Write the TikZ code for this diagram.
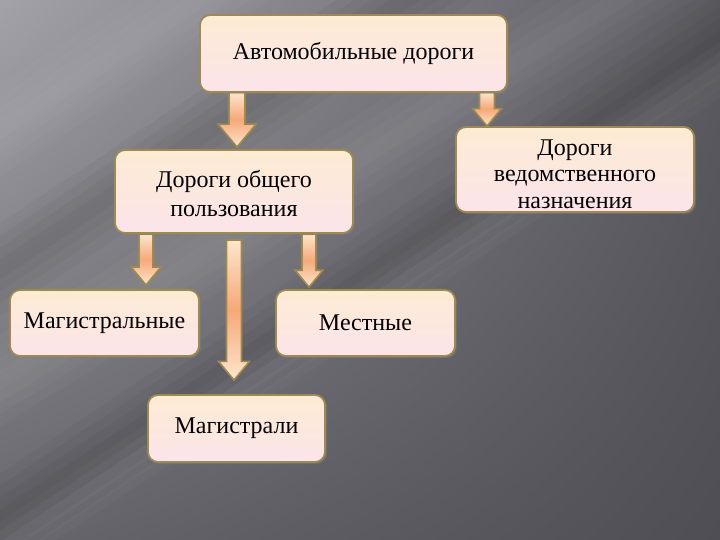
\documentclass[tikz,border=0pt]{standalone}
\usepackage{fontspec}
\setmainfont{Liberation Serif}
\usetikzlibrary{shadows,shadings}
\definecolor{bord}{HTML}{9C8A50}
\definecolor{ftop}{HTML}{FDEBD3}
\definecolor{fbot}{HTML}{FCE4EA}
\definecolor{atop}{HTML}{FDE6CC}
\definecolor{amid}{HTML}{F6A878}
\definecolor{bgUL}{HTML}{A2A2A8}
\definecolor{bgUR}{HTML}{5A5A60}
\definecolor{bgLL}{HTML}{66666C}
\definecolor{bgLR}{HTML}{4E4E54}
\tikzset{
  box/.style={draw=bord, line width=1.8pt, rounded corners=10pt, top color=ftop, bottom color=fbot,
    align=center, font=\fontsize{24}{29}\selectfont, text=black, inner sep=0pt,
    drop shadow={shadow xshift=2pt, shadow yshift=-2pt, opacity=0.45}},
  txt/.style={align=center, font=\fontsize{24}{29}\selectfont, text=black, inner sep=0pt},
  barrow/.style={draw=bord, line width=1.6pt, top color=atop, bottom color=atop, middle color=amid},
  streak/.style={white, opacity=0.025},
  dstreak/.style={black, opacity=0.03}
}
\newcommand{\blockarrow}[5]{%
  \path[barrow] (#1-#3,#2) -- (#1+#3,#2) -- (#1+#3,#5-18*#4/15) -- (#1+#4,#5-18*#4/15) -- (#1,#5) -- (#1-#4,#5-18*#4/15) -- (#1-#3,#5-18*#4/15) -- cycle;}
\begin{document}
\begin{tikzpicture}[x=1pt,y=-1pt]
\useasboundingbox (0,0) rectangle (720,540);
\begin{scope}
\clip (0,0) rectangle (720,540);
\shade[upper left=bgUL, upper right=bgUR, lower left=bgLL, lower right=bgLR] (0,0) rectangle (720,540);
% soft diagonal streaks
\foreach \w in {10,22,34,46} {
  \fill[streak] (-50,411-\w) -- (-50,411+\w) -- (770,-93+\w) -- (770,-93-\w) -- cycle;
  \fill[streak] (-50,163-\w) -- (-50,163+\w) -- (770,-373+\w) -- (770,-373-\w) -- cycle;
  \fill[dstreak] (-50,303-\w) -- (-50,303+\w) -- (770,-243+\w) -- (770,-243-\w) -- cycle;
  \fill[dstreak] (-50,553-\w) -- (-50,553+\w) -- (770,7+\w) -- (770,7-\w) -- cycle;
}
\foreach \w in {8,18,28} {
  \fill[streak] (-50,583-\w) -- (-50,583+\w) -- (770,37+\w) -- (770,37-\w) -- cycle;
}
\end{scope}

% arrows
\blockarrow{237}{92}{8}{19}{147}
\blockarrow{487}{92}{7.5}{14.5}{126}
\blockarrow{146}{234}{7}{15}{285}
\blockarrow{309}{234}{7}{14}{287}
\blockarrow{234}{240}{7.5}{15.5}{380}

% boxes
\node[box, minimum width=307pt, minimum height=77pt] (auto) at (353.5,53.5) {Автомобильные дороги};
\node[box, minimum width=238pt, minimum height=83pt] (obsh) at (234,191.5) {};
\node[txt] (obsh-t) at (234,194) {Дороги общего\\пользования};
\node[box, minimum width=238pt, minimum height=85pt] (ved) at (575,169.5) {};
\node[txt, font=\fontsize{24}{26.5}\selectfont] (ved-t) at (575,174) {Дороги\\ведомственного\\назначения};
\node[box, minimum width=189pt, minimum height=66pt] (mag) at (104.5,323) {Магистральные};
\node[box, minimum width=179pt, minimum height=66pt] (mest) at (365.5,323) {Местные};
\node[box, minimum width=177pt, minimum height=67pt] (magi) at (236.5,428.5) {Магистрали};
\end{tikzpicture}
\end{document}
